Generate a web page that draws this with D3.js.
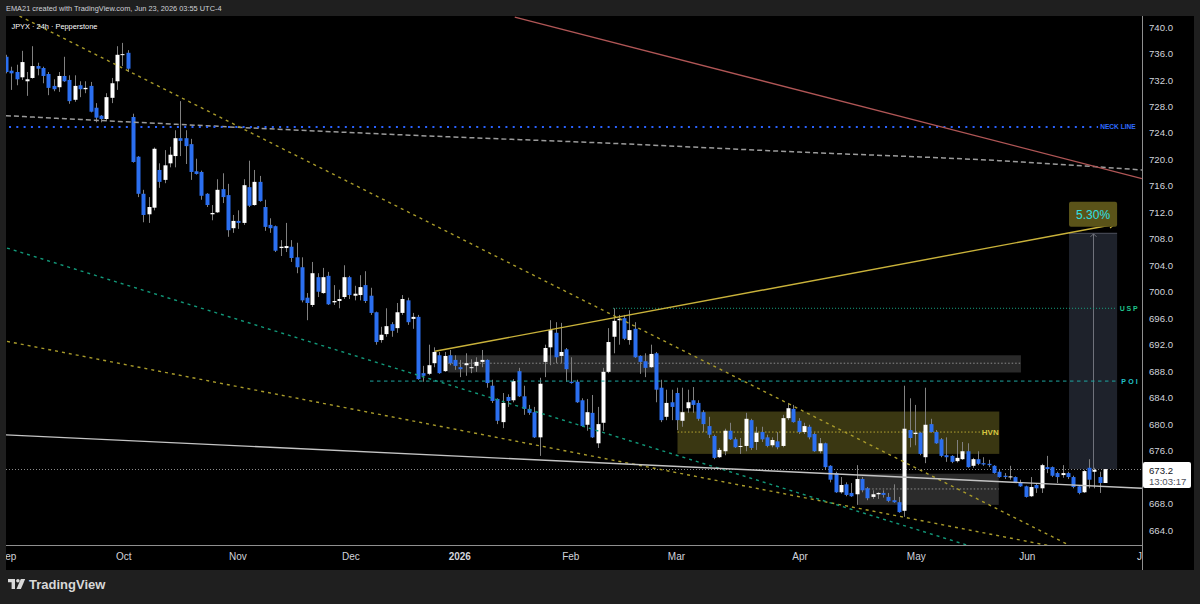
<!DOCTYPE html>
<html>
<head>
<meta charset="utf-8">
<script src="https://cdn.jsdelivr.net/npm/d3@7"></script>
<style>
  html, body { margin: 0; padding: 0; background: #1f1f1f; }
  svg { display: block; }
  text { font-family: "Liberation Sans", Arial, sans-serif; }
</style>
</head>
<body>
<div id="chart"></div>
<script>
// JPYX 24h candles, one per trading day from Sep 1 2025 to Jun 22 2026
const opens = [
  735.5,733.4,733.2,732.4,731.8,732.3,734.1,733.8,732.9,731.1,
  730.9,732.6,732.0,729.0,731.2,730.6,731.1,727.8,726.6,726.1,
  729.3,731.8,735.8,736.1,726.4,720.4,714.8,711.7,712.7,718.4,
  716.9,719.4,720.5,723.2,723.2,722.3,718.2,718.1,714.8,711.7,
  712.0,715.5,714.6,709.6,710.7,710.4,715.8,713.1,716.6,712.8,
  710.1,709.9,706.6,706.6,706.8,705.2,703.7,699.1,698.0,702.2,
  699.8,702.4,698.4,698.6,699.2,702.2,699.4,699.5,701.0,699.4,
  696.9,692.7,693.6,695.1,694.5,696.8,698.7,695.9,696.2,687.7,
  687.6,689.2,690.4,688.0,690.4,689.7,688.6,688.9,688.5,688.8,
  689.4,689.7,685.8,683.8,680.3,684.1,683.6,688.0,684.2,682.3,
  681.8,678.0,689.4,691.6,693.8,690.3,691.3,686.4,686.4,683.6,
  679.9,681.7,677.1,680.2,687.9,693.2,695.7,696.0,692.7,694.4,
  690.3,689.5,688.6,690.7,685.5,681.1,683.3,684.7,680.5,682.4,
  683.6,683.2,681.8,679.7,678.2,675.0,675.9,679.0,677.7,676.6,
  676.7,680.6,677.3,678.8,678.0,676.8,677.4,676.7,680.9,682.3,
  680.5,678.8,679.6,678.5,675.9,677.1,673.7,672.6,669.7,670.9,
  669.6,669.4,671.7,670.3,669.0,669.4,669.6,669.0,668.5,668.2,
  666.9,679.1,678.5,678.7,675.0,680.0,678.8,677.7,675.3,675.2,
  674.4,674.7,675.9,673.7,674.7,674.1,674.0,673.7,672.8,672.2,
  672.0,672.0,671.2,670.6,669.1,670.8,670.3,673.5,673.5,672.6,
  672.3,672.6,672.0,670.6,669.7,673.4,672.8,672.0,671.1
];
const highs = [
  735.8,734.0,734.3,736.4,733.2,737.1,734.6,734.0,733.2,732.1,
  733.2,735.5,732.7,732.7,731.8,731.8,731.7,728.5,726.7,730.0,
  732.3,737.1,737.6,736.5,726.9,720.5,715.4,714.3,721.8,719.4,
  721.4,721.9,724.4,728.8,724.4,723.1,720.1,718.3,714.9,713.1,
  717.0,717.9,716.3,711.6,712.3,717.0,719.8,718.4,717.5,713.9,
  711.1,710.0,707.8,710.4,707.8,707.4,705.2,699.8,704.5,702.8,
  703.6,703.0,701.0,700.3,704.0,702.4,700.9,702.5,703.1,700.6,
  697.0,694.7,697.5,695.4,698.3,699.5,699.1,696.8,696.5,688.8,
  692.0,691.6,690.9,690.9,691.2,690.4,689.7,690.7,689.8,690.1,
  691.2,689.8,686.7,683.9,684.7,684.5,686.8,688.5,685.8,682.9,
  682.6,687.0,692.0,695.7,695.4,695.3,691.5,690.1,686.7,683.9,
  683.8,684.4,682.6,688.5,694.5,697.5,696.5,696.5,697.2,695.4,
  690.4,690.7,692.0,690.9,686.7,685.2,685.2,685.5,685.5,685.2,
  685.6,683.6,682.1,681.1,678.4,676.4,679.3,680.2,678.0,677.9,
  681.7,680.8,679.6,679.6,678.4,678.0,678.8,681.4,683.2,682.9,
  680.9,680.2,679.9,678.7,677.9,677.2,673.8,672.8,672.0,671.2,
  671.1,673.8,672.0,670.5,670.0,669.7,670.0,669.6,670.9,669.0,
  685.8,683.9,682.9,678.8,685.5,680.8,679.1,677.9,678.0,675.3,
  677.6,677.3,677.1,674.9,675.9,675.0,674.6,673.8,673.1,672.6,
  673.7,672.1,671.6,670.7,672.0,671.1,674.0,675.2,673.6,672.8,
  673.8,672.8,672.2,670.8,673.1,674.7,673.4,672.8,673.2
];
const lows = [
  733.0,730.5,731.2,732.0,729.6,732.2,732.7,731.5,729.7,730.3,
  730.2,731.7,728.4,728.7,729.4,730.0,727.1,725.6,725.6,725.9,
  728.5,730.5,734.1,733.2,719.5,714.3,710.5,710.4,712.3,715.7,
  716.4,718.8,718.8,720.5,719.3,716.9,717.7,713.9,712.8,710.8,
  711.9,713.4,708.3,708.9,709.5,710.1,712.8,713.0,713.6,709.2,
  708.9,706.0,705.4,706.0,704.5,702.8,698.4,695.7,697.7,699.2,
  699.7,698.0,698.0,697.5,698.9,698.9,698.7,698.7,698.3,696.5,
  692.0,692.3,693.2,693.2,693.8,696.5,695.0,694.4,686.7,686.4,
  687.4,688.6,687.6,687.9,688.9,688.2,687.1,687.3,687.7,687.9,
  688.6,685.5,683.2,680.0,679.4,682.6,683.3,684.1,681.4,681.4,
  677.9,675.2,687.1,688.9,689.2,689.2,686.4,686.1,683.2,679.6,
  679.0,677.9,676.4,679.0,687.7,690.7,692.0,692.7,692.0,690.0,
  687.6,687.1,688.5,683.3,680.3,680.6,680.6,679.1,679.6,681.7,
  681.7,680.5,678.8,677.9,674.7,674.9,675.3,677.6,676.4,675.5,
  675.9,676.1,676.1,677.3,676.5,676.5,676.2,676.5,680.6,680.2,
  678.5,678.5,677.7,675.8,675.6,673.1,671.2,669.6,669.5,669.1,
  669.0,667.8,669.7,668.5,668.7,668.7,668.9,668.2,668.1,666.6,
  666.0,676.5,676.8,675.3,674.1,678.7,677.0,675.0,674.3,674.1,
  674.2,674.6,673.4,673.4,673.8,673.7,673.5,672.5,671.9,671.7,
  671.6,671.1,670.5,668.9,669.0,669.6,669.6,672.6,672.0,671.1,
  671.9,671.7,670.3,669.4,669.6,670.3,670.3,669.6,671.1
];
const closes = [
  733.2,733.0,732.1,734.7,732.1,734.1,733.7,732.6,730.8,730.6,
  732.6,731.8,728.8,731.1,730.6,730.8,727.2,726.3,726.1,729.4,
  731.5,735.8,735.9,733.7,719.6,714.8,711.6,712.8,721.6,716.6,
  719.1,720.7,723.2,722.8,722.0,718.1,717.8,714.5,713.1,711.9,
  715.4,714.3,709.3,710.7,710.4,716.1,713.0,716.6,713.7,709.8,
  709.6,706.2,706.8,706.9,705.1,703.7,698.7,698.3,702.8,700.0,
  702.2,698.1,698.6,698.9,702.2,699.5,699.7,700.7,698.6,696.8,
  692.4,693.5,694.8,694.1,696.9,698.9,695.4,696.2,686.8,687.3,
  688.9,690.9,687.7,690.3,689.2,688.8,688.3,689.2,688.6,689.4,
  689.7,686.2,683.5,680.5,683.2,683.5,686.5,684.2,682.3,681.7,
  678.0,686.1,691.5,694.2,690.1,690.9,688.3,686.2,683.3,679.7,
  681.8,678.0,680.0,687.9,692.4,695.6,695.9,692.9,694.2,690.1,
  689.4,688.5,690.6,685.2,680.6,683.2,682.6,680.6,681.8,683.3,
  682.9,680.8,680.0,678.4,674.9,676.1,679.0,677.7,676.5,676.7,
  680.8,676.4,678.7,677.7,676.7,677.6,676.5,680.9,682.4,680.3,
  678.8,679.7,678.0,675.9,677.1,673.5,671.6,669.7,670.8,669.3,
  669.1,671.7,670.0,668.8,669.4,669.6,669.3,668.4,668.2,666.7,
  679.3,677.9,678.7,675.5,679.9,678.8,677.1,675.2,675.0,674.3,
  674.9,675.9,673.5,674.7,674.0,673.9,673.8,672.6,672.0,672.0,
  672.1,671.2,670.6,669.0,670.5,670.3,673.8,673.2,672.2,672.0,
  672.6,672.0,670.5,669.6,672.9,671.6,673.1,671.1,673.2
];

const holidays = ["2025-12-25", "2026-01-01"];
const priceTicks = d3.range(664, 741, 4);

// drawings, anchored as [bar index, price]
const neckLevel = 724.9;
const uspLevel = 697.5;
const poiLevel = 686.5;
const grayCurve = [[-0.2, 726.6], [27, 725.5], [55.5, 724.4], [83.8, 723.4], [112.2, 722.5], [150, 721.1], [187.9, 719.8], [214.8, 718.4]];
const redLine = [[96.1, 741.5], [214.8, 717.1]];
const yellowFanTop = [[0, 742.6], [208, 658.9]];
const yellowFanLow = [[0, 692.5], [200, 661.2]];
const greenFan = [[0, 706.6], [200, 657.2]];
const whiteTrend = [[-1, 678.4], [214.8, 670.3]];
const projection = [[81, 691.0], [209.7, 710.2]];
const upperZone = { from: 83.5, to: 191.9, top: 690.4, bottom: 687.8, mid: 689.2 };
const hvnZone = { from: 126.9, to: 187.8, top: 681.9, bottom: 675.5, mid: 678.8, midEnd: 184.2 };
const lowerZone = { from: 161.1, to: 187.7, top: 672.5, bottom: 667.8, mid: 670.2 };
const measure = { from: 201, to: 210.1, start: 673.2, end: 708.9 };
const lastPrice = 673.2;
const countdown = "13:03:17";

// trading-day categories
const fmtDay = d3.timeFormat("%Y-%m-%d");
const dates = d3.timeDay.range(new Date(2025, 8, 1), new Date(2026, 6, 3))
  .filter(d => d.getDay() % 6 !== 0 && !holidays.includes(fmtDay(d)));

const bars = opens.map((o, i) => ({ i, o, h: highs[i], l: lows[i], c: closes[i] }));

const plot = { l: 6, r: 1142, t: 16, b: 545 };
const x = d3.scaleLinear().domain([0, opens.length - 1]).range([7, 1106]);
const y = d3.scaleLinear().domain([664, 740]).range([530, 27]);

const svg = d3.select("#chart").append("svg")
    .attr("width", 1200)
    .attr("height", 604);

svg.append("rect").attr("width", 1200).attr("height", 604).attr("fill", "#1f1f1f");
svg.append("rect").attr("x", 6).attr("y", 16).attr("width", 1188).attr("height", 554).attr("fill", "#000");

const defs = svg.append("defs");
defs.append("clipPath").attr("id", "plotClip").append("rect")
    .attr("x", plot.l).attr("y", plot.t)
    .attr("width", plot.r - plot.l).attr("height", plot.b - plot.t);
defs.append("clipPath").attr("id", "xAxisClip").append("rect")
    .attr("x", plot.l).attr("y", plot.b)
    .attr("width", plot.r - plot.l).attr("height", 25);
defs.append("marker")
    .attr("id", "arrow")
    .attr("viewBox", "0 0 10 10")
    .attr("refX", 9).attr("refY", 5)
    .attr("markerWidth", 7).attr("markerHeight", 7)
    .attr("markerUnits", "userSpaceOnUse")
    .attr("orient", "auto")
  .append("path")
    .attr("d", "M1,1 L9,5 L1,9")
    .attr("fill", "none")
    .attr("stroke", "#d2b83c")
    .attr("stroke-width", 1.5);

const g = svg.append("g").attr("clip-path", "url(#plotClip)");
const line = d3.line().x(d => x(d[0])).y(d => y(d[1]));

// zones under the candles
function zone(z, fill) {
  g.append("rect")
    .attr("x", x(z.from)).attr("y", y(z.top))
    .attr("width", x(z.to) - x(z.from)).attr("height", y(z.bottom) - y(z.top))
    .attr("fill", fill);
}
zone(upperZone, "#2a2a2a");
zone(hvnZone, "#3a3712");
zone(lowerZone, "#2b2b2b");

// measure box
g.append("rect")
    .attr("x", x(measure.from)).attr("y", y(measure.end))
    .attr("width", x(measure.to) - x(measure.from))
    .attr("height", y(measure.start) - y(measure.end))
    .attr("fill", "#1e222b");
g.append("line")
    .attr("x1", x(measure.from)).attr("x2", x(measure.to))
    .attr("y1", y(measure.end) + 0.5).attr("y2", y(measure.end) + 0.5)
    .attr("stroke", "#4a4e58");
const mx = Math.round(x((measure.from + measure.to) / 2)) + 0.5;
g.append("line")
    .attr("x1", mx).attr("x2", mx)
    .attr("y1", y(measure.end) + 1).attr("y2", y(measure.start))
    .attr("stroke", "#6f727b");
g.append("path")
    .attr("d", `M${mx - 3},${y(measure.end) + 4} L${mx},${y(measure.end) + 1} L${mx + 3},${y(measure.end) + 4}`)
    .attr("fill", "none").attr("stroke", "#6f727b");

// zone mid lines
function midLine(z, end, color) {
  g.append("line")
    .attr("x1", x(z.from)).attr("x2", x(end))
    .attr("y1", y(z.mid)).attr("y2", y(z.mid))
    .attr("stroke", color).attr("stroke-dasharray", "1.5,2");
}
midLine(upperZone, upperZone.to, "#8c8c8c");
midLine(hvnZone, hvnZone.midEnd, "#b3a432");
midLine(lowerZone, lowerZone.to, "#8c8c8c");

// last price line
g.append("line")
    .attr("x1", plot.l).attr("x2", plot.r)
    .attr("y1", Math.round(y(lastPrice)) + 0.5).attr("y2", Math.round(y(lastPrice)) + 0.5)
    .attr("stroke", "#8a8a8a").attr("stroke-dasharray", "1,2");

// candles
const candle = g.append("g").selectAll("g")
    .data(bars)
    .enter().append("g");
candle.append("rect")
    .attr("x", d => Math.round(x(d.i)) - 1)
    .attr("y", d => y(d.h))
    .attr("width", 1)
    .attr("height", d => Math.max(1, y(d.l) - y(d.h)))
    .attr("fill", "#808080");
candle.append("rect")
    .attr("x", d => Math.round(x(d.i)) - 2.5)
    .attr("y", d => y(Math.max(d.o, d.c)))
    .attr("width", 4)
    .attr("height", d => Math.max(1, Math.abs(y(d.o) - y(d.c))))
    .attr("fill", d => d.c >= d.o ? "#ffffff" : "#2b6ff0");

// trend lines and levels
g.append("path").datum(grayCurve)
    .attr("d", line.curve(d3.curveMonotoneX))
    .attr("fill", "none").attr("stroke", "#9b9b9b")
    .attr("stroke-width", 1.5).attr("stroke-dasharray", "5,3");
line.curve(d3.curveLinear);

g.append("line")
    .attr("x1", x(-1)).attr("x2", x(206.5))
    .attr("y1", y(neckLevel)).attr("y2", y(neckLevel))
    .attr("stroke", "#2962ff").attr("stroke-width", 2).attr("stroke-dasharray", "2,5.3");

g.append("path").datum(redLine)
    .attr("d", line).attr("fill", "none")
    .attr("stroke", "#b05656").attr("stroke-width", 1.3);

g.append("path").datum(yellowFanTop)
    .attr("d", line).attr("fill", "none")
    .attr("stroke", "#a99b2a").attr("stroke-width", 1.4).attr("stroke-dasharray", "3,4");
g.append("path").datum(yellowFanLow)
    .attr("d", line).attr("fill", "none")
    .attr("stroke", "#a99b2a").attr("stroke-width", 1.4).attr("stroke-dasharray", "3,4");
g.append("path").datum(greenFan)
    .attr("d", line).attr("fill", "none")
    .attr("stroke", "#12997a").attr("stroke-width", 1.4).attr("stroke-dasharray", "3,4");

g.append("path").datum(whiteTrend)
    .attr("d", line).attr("fill", "none")
    .attr("stroke", "#c4c4c4").attr("stroke-width", 1.4);

g.append("line")
    .attr("x1", x(114.7)).attr("x2", x(209.7))
    .attr("y1", y(uspLevel)).attr("y2", y(uspLevel))
    .attr("stroke", "#17a382").attr("stroke-dasharray", "1,2");
g.append("line")
    .attr("x1", x(68.7)).attr("x2", x(210.3))
    .attr("y1", y(poiLevel)).attr("y2", y(poiLevel))
    .attr("stroke", "#1ea6a0").attr("stroke-dasharray", "3.5,3.5");

g.append("path").datum(projection)
    .attr("d", line).attr("fill", "none")
    .attr("stroke", "#c9b23a").attr("stroke-width", 1.4)
    .attr("marker-end", "url(#arrow)");

// drawing labels
g.append("text")
    .attr("x", x(206.9)).attr("y", y(neckLevel) + 2.5)
    .attr("font-size", 6.6).attr("font-weight", "bold")
    .attr("fill", "#2f6bff").text("NECK LINE");
g.append("text")
    .attr("x", x(210.6)).attr("y", y(uspLevel) + 2.5)
    .attr("font-size", 7).attr("font-weight", "bold").attr("letter-spacing", 1.8)
    .attr("fill", "#1fc48c").text("USP");
g.append("text")
    .attr("x", x(210.9)).attr("y", y(poiLevel) + 2.5)
    .attr("font-size", 7).attr("font-weight", "bold").attr("letter-spacing", 2.2)
    .attr("fill", "#22c2c8").text("POI");
g.append("text")
    .attr("x", x(184.5)).attr("y", y(hvnZone.mid) + 3)
    .attr("font-size", 8).attr("font-weight", "bold")
    .attr("fill", "#d6c640").text("HVN");

// measure label
const pct = ((measure.end - measure.start) / measure.start * 100).toFixed(2) + "%";
g.append("rect")
    .attr("x", x(measure.from)).attr("y", y(measure.end) - 31)
    .attr("width", x(measure.to) - x(measure.from)).attr("height", 25)
    .attr("rx", 2).attr("fill", "#5a5319");
g.append("text")
    .attr("x", (x(measure.from) + x(measure.to)) / 2).attr("y", y(measure.end) - 14)
    .attr("text-anchor", "middle").attr("font-size", 12)
    .attr("fill", "#2fe0e6").text(pct);

// x axis: month labels sit at the first bar, a little earlier when the 1st is not a trading day
const monthTicks = dates.map((d, i) => i)
    .filter(i => i === 0 || dates[i].getMonth() !== dates[i - 1].getMonth());
const tickPos = i => dates[i].getDate() > 1 ? i - 1.4 : i;
const xAxis = svg.append("g")
    .attr("clip-path", "url(#xAxisClip)")
  .append("g")
    .attr("transform", `translate(0,${plot.b})`)
    .call(d3.axisBottom(x)
      .tickValues(monthTicks.map(tickPos))
      .tickSize(0)
      .tickPadding(8)
      .tickFormat((v, k) => {
        const d = dates[monthTicks[k]];
        return d.getMonth() === 0 ? d3.timeFormat("%Y")(d) : d3.timeFormat("%b")(d);
      }));
xAxis.select(".domain").remove();
xAxis.selectAll("text")
    .attr("fill", "#d1d4dc").attr("font-size", 10)
    .attr("font-family", "'Liberation Sans', Arial, sans-serif")
    .attr("font-weight", (v, k) => dates[monthTicks[k]].getMonth() === 0 ? "bold" : "normal");

// y axis (the tick hidden behind the last price tag is left out)
const yAxis = svg.append("g")
    .attr("transform", `translate(${plot.r},0)`)
    .call(d3.axisRight(y)
      .tickValues(priceTicks.filter(p => Math.abs(y(p) - y(lastPrice)) > 14))
      .tickSize(0).tickPadding(7).tickFormat(d3.format(".1f")));
yAxis.select(".domain").remove();
yAxis.selectAll("text")
    .attr("fill", "#d1d4dc").attr("font-size", 9.6)
    .attr("font-family", "'Liberation Sans', Arial, sans-serif");

// borders
svg.append("line")
    .attr("x1", plot.l).attr("x2", plot.r)
    .attr("y1", plot.b + 0.5).attr("y2", plot.b + 0.5)
    .attr("stroke", "#8f8f8f");
svg.append("line")
    .attr("x1", plot.r + 0.5).attr("x2", plot.r + 0.5)
    .attr("y1", plot.t).attr("y2", 570)
    .attr("stroke", "#8f8f8f");

// last price tag
const ly = y(lastPrice);
svg.append("rect")
    .attr("x", plot.r + 1).attr("y", ly - 7)
    .attr("width", 48).attr("height", 26)
    .attr("rx", 2).attr("fill", "#ffffff");
svg.append("text")
    .attr("x", plot.r + 7).attr("y", ly + 4.5)
    .attr("font-size", 9.6).attr("fill", "#131722").text(lastPrice.toFixed(1));
svg.append("text")
    .attr("x", plot.r + 7).attr("y", ly + 16)
    .attr("font-size", 9.6).attr("fill", "#50535e").text(countdown);

// header and legend
svg.append("text")
    .attr("x", 6).attr("y", 11)
    .attr("font-size", 7.4).attr("fill", "#cfd2d8")
    .text("EMA21 created with TradingView.com, Jun 23, 2026 03:55 UTC-4");
svg.append("text")
    .attr("x", 11.5).attr("y", 28.5)
    .attr("font-size", 7.4).attr("fill", "#ffffff")
    .text("JPYX · 24h · Pepperstone");

// footer logo
const logo = svg.append("g").attr("fill", "#d8d8d8");
logo.append("path").attr("d", "M8,579 h7 v10 h-3.4 v-6.8 h-3.6 z");
logo.append("circle").attr("cx", 17.9).attr("cy", 580.8).attr("r", 1.8);
logo.append("path").attr("d", "M20.8,579 h4.4 l-4.3,10 h-4.4 z");
svg.append("text")
    .attr("x", 29).attr("y", 589)
    .attr("font-family", "'Open Sans', sans-serif")
    .attr("font-size", 13).attr("font-weight", 600)
    .attr("fill", "#d8d8d8").text("TradingView");
</script>
</body>
</html>
